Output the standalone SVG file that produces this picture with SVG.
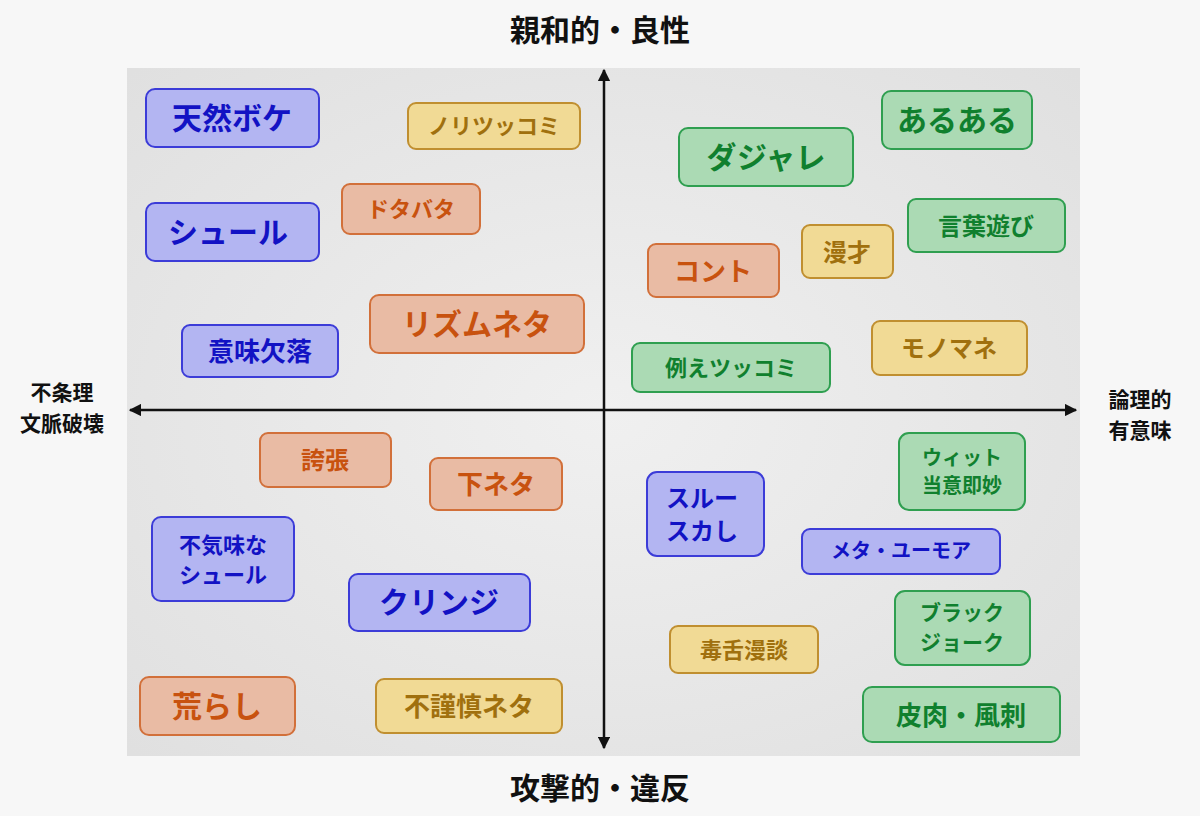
<svg xmlns="http://www.w3.org/2000/svg" width="1200" height="816" viewBox="0 0 1200 816">
<defs>
<radialGradient id="bg" cx="50%" cy="50%" r="70%"><stop offset="0" stop-color="#f0f0f0"/><stop offset="1" stop-color="#e0e0e0"/></radialGradient>
<marker id="ah" viewBox="0 0 10 10" refX="9" refY="5" markerWidth="5" markerHeight="5" orient="auto-start-reverse"><path d="M0,0 L10,5 L0,10 z" fill="#111"/></marker>
</defs>
<style>
text{font-family:"Noto Sans CJK JP","Noto Sans",sans-serif;font-weight:bold;text-anchor:middle;dominant-baseline:central}
.b rect{fill:#b3b5f2;stroke:#3c3cd8;stroke-width:2}.b text{fill:#1212c4}
.o rect{fill:#e9bba4;stroke:#d2703a;stroke-width:2}.o text{fill:#c8520f}
.y rect{fill:#f1da95;stroke:#c08f30;stroke-width:2}.y text{fill:#a0700e}
.g rect{fill:#abdab4;stroke:#2f9f50;stroke-width:2}.g text{fill:#10802e}
.ax{fill:#111;font-size:30px}.sd{fill:#111;font-size:21px}
</style>
<rect width="1200" height="816" fill="#f7f7f7"/>
<rect x="127" y="68" width="953" height="688" fill="url(#bg)"/>
<g id="connectors" stroke="#111" stroke-width="2.5">
<line x1="604" y1="748" x2="604" y2="70" marker-start="url(#ah)" marker-end="url(#ah)"/>
<line x1="130" y1="410" x2="1076" y2="410" marker-start="url(#ah)" marker-end="url(#ah)"/>
</g>
<text class="ax" x="600" y="28">親和的・良性</text>
<text class="ax" x="600" y="786">攻撃的・違反</text>
<text class="sd" x="62" y="391">不条理</text><text class="sd" x="62" y="422">文脈破壊</text>
<text class="sd" x="1140" y="398">論理的</text><text class="sd" x="1140" y="429">有意味</text>
<g id="n1" class="b"><rect x="146" y="89" width="173" height="58" rx="9"/><text x="232" y="116" font-size="30">天然ボケ</text></g>
<g id="n2" class="y"><rect x="408" y="103" width="172" height="46" rx="8"/><text x="494" y="124" font-size="22">ノリツッコミ</text></g>
<g id="n3" class="o"><rect x="342" y="184" width="138" height="50" rx="8"/><text x="411" y="207" font-size="22">ドタバタ</text></g>
<g id="n4" class="b"><rect x="146" y="203" width="173" height="58" rx="9"/><text x="228" y="230" font-size="30">シュール</text></g>
<g id="n5" class="o"><rect x="370" y="295" width="214" height="58" rx="9"/><text x="477" y="322" font-size="30">リズムネタ</text></g>
<g id="n6" class="b"><rect x="182" y="325" width="156" height="52" rx="8"/><text x="260" y="349" font-size="26">意味欠落</text></g>
<g id="n7" class="g"><rect x="679" y="128" width="174" height="58" rx="9"/><text x="766" y="155" font-size="30">ダジャレ</text></g>
<g id="n8" class="g"><rect x="882" y="91" width="150" height="58" rx="9"/><text x="957" y="118" font-size="30">あるある</text></g>
<g id="n9" class="g"><rect x="908" y="199" width="157" height="53" rx="8"/><text x="986" y="224" font-size="24">言葉遊び</text></g>
<g id="n10" class="y"><rect x="802" y="225" width="91" height="53" rx="8"/><text x="847" y="250" font-size="24">漫才</text></g>
<g id="n11" class="o"><rect x="648" y="244" width="131" height="53" rx="8"/><text x="713" y="269" font-size="26">コント</text></g>
<g id="n12" class="y"><rect x="872" y="321" width="155" height="54" rx="8"/><text x="949" y="346" font-size="24">モノマネ</text></g>
<g id="n13" class="g"><rect x="632" y="343" width="198" height="49" rx="8"/><text x="731" y="366" font-size="22">例えツッコミ</text></g>
<g id="n14" class="o"><rect x="260" y="433" width="131" height="54" rx="8"/><text x="325" y="458" font-size="24">誇張</text></g>
<g id="n15" class="o"><rect x="430" y="458" width="132" height="52" rx="8"/><text x="496" y="482" font-size="26">下ネタ</text></g>
<g id="n16" class="b"><rect x="152" y="517" width="142" height="84" rx="9"/><text x="223" y="543" font-size="22">不気味な</text><text x="223" y="573" font-size="22">シュール</text></g>
<g id="n17" class="b"><rect x="349" y="574" width="181" height="57" rx="9"/><text x="439" y="600" font-size="30">クリンジ</text></g>
<g id="n18" class="o"><rect x="140" y="677" width="155" height="58" rx="9"/><text x="217" y="704" font-size="30">荒らし</text></g>
<g id="n19" class="y"><rect x="376" y="679" width="186" height="54" rx="8"/><text x="469" y="704" font-size="26">不謹慎ネタ</text></g>
<g id="n20" class="b"><rect x="647" y="472" width="117" height="84" rx="10"/><text x="702" y="496" font-size="24">スルー</text><text x="702" y="529" font-size="24">スカし</text></g>
<g id="n21" class="g"><rect x="899" y="433" width="126" height="77" rx="10"/><text x="962" y="456" font-size="20">ウィット</text><text x="962" y="484" font-size="20">当意即妙</text></g>
<g id="n22" class="b"><rect x="802" y="529" width="198" height="45" rx="8"/><text x="901" y="549" font-size="20">メタ・ユーモア</text></g>
<g id="n23" class="g"><rect x="895" y="591" width="135" height="74" rx="10"/><text x="962" y="611" font-size="21">ブラック</text><text x="962" y="641" font-size="21">ジョーク</text></g>
<g id="n24" class="y"><rect x="670" y="626" width="148" height="47" rx="8"/><text x="744" y="648" font-size="22">毒舌漫談</text></g>
<g id="n25" class="g"><rect x="863" y="687" width="197" height="55" rx="9"/><text x="961" y="713" font-size="26">皮肉・風刺</text></g>
</svg>
